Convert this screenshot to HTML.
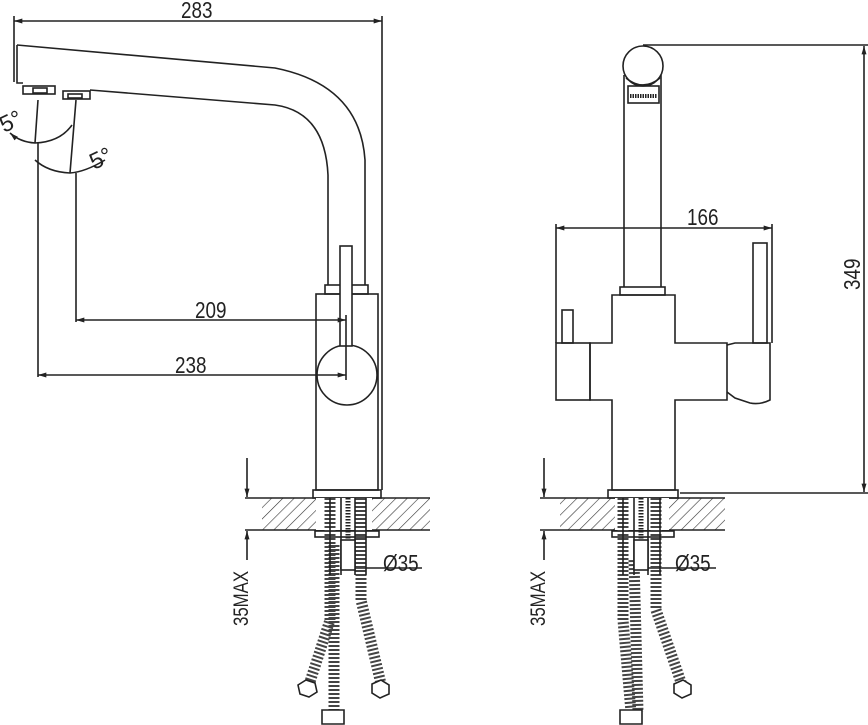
<!DOCTYPE html>
<html><head><style>html,body{margin:0;padding:0;background:#fff}svg{display:block}text{font-family:"Liberation Sans",sans-serif;fill:#222}</style></head>
<body>
<svg width="868" height="725" viewBox="0 0 868 725" xmlns="http://www.w3.org/2000/svg">
<defs>
<pattern id="h" width="8" height="8" patternUnits="userSpaceOnUse" patternTransform="rotate(45)"><line x1="0" y1="0" x2="0" y2="8" stroke="#333" stroke-width="1.2"/></pattern>
<marker id="a" viewBox="0 0 10 6" refX="10" refY="3" markerWidth="13" markerHeight="5" orient="auto-start-reverse" markerUnits="userSpaceOnUse"><path d="M0,0 L10,3 L0,6z" fill="#222"/></marker>
</defs>
<g fill="none" stroke="#222" stroke-width="1.6">
<!-- LEFT VIEW -->
<line x1="14" y1="21" x2="382" y2="21" marker-start="url(#a)" marker-end="url(#a)"/>
<line x1="14" y1="16" x2="14" y2="82"/>
<line x1="382" y1="16" x2="382" y2="490"/>
<path d="M17,45 L275,68 Q360,85 365,160 L365,285"/>
<path d="M17,45 L17,83 L23,83"/>
<path d="M90,90 L275,105 Q325,112 328,175 L328,285"/>
<rect x="23" y="86" width="32" height="8"/><rect x="33" y="88" width="14" height="5"/>
<rect x="63" y="91" width="27" height="8"/><rect x="68" y="94" width="14" height="4"/>
<path d="M38,100 L35,143 M76,100 L70,173"/>
<path d="M10,133 Q20,142 35,143 Q60,142 72,125" marker-start="url(#a)"/>
<path d="M35,160 Q48,172 70,173 Q85,172 105,160"/>
<line x1="38" y1="143" x2="38" y2="377"/>
<line x1="76" y1="173" x2="76" y2="322"/>
<rect x="325" y="285" width="43" height="9"/>
<rect x="316" y="294" width="62" height="196"/>
<circle cx="347" cy="375" r="30"/>
<rect x="340" y="246" width="12" height="100" fill="#fff"/>
<line x1="76" y1="320" x2="346" y2="320" marker-start="url(#a)" marker-end="url(#a)"/>
<line x1="38" y1="375" x2="346" y2="375" marker-start="url(#a)" marker-end="url(#a)"/>
<line x1="346" y1="315" x2="346" y2="380"/>
<rect x="313" y="490" width="68" height="8"/>
<rect x="262" y="498" width="168" height="32" fill="url(#h)" stroke="none"/>
<line x1="245" y1="498" x2="430" y2="498"/><line x1="245" y1="530" x2="430" y2="530"/>
<rect x="316" y="498" width="56" height="32" fill="#fff" stroke="none"/>
<rect x="315" y="531" width="64" height="6"/>
<line x1="247" y1="458" x2="247" y2="497" marker-end="url(#a)"/>
<line x1="247" y1="560" x2="247" y2="531" marker-end="url(#a)"/>
<line x1="340" y1="568" x2="422" y2="568"/>
<g stroke="#444" stroke-width="11" stroke-dasharray="2 2">
<path d="M330,498 L330,620 L308,688"/>
<path d="M334,545 L334,712"/>
<path d="M361,498 L361,600 L382,688"/>
</g>
<path d="M330,498 V575 M341,498 V575 M355,498 V575 M366,498 V575"/>
<rect x="341" y="540" width="14" height="30" fill="#fff"/>
<line x1="348" y1="498" x2="348" y2="540" stroke-width="5" stroke-dasharray="1.5 1.5"/>
<path d="M298,685 l8,-5 l9,3 l2,9 l-8,5 l-9,-3z" fill="#fff"/>
<path d="M322,710 h22 v14 h-22z" fill="#fff"/>
<path d="M372,684 l9,-4 l8,5 l0,9 l-9,4 l-8,-5z" fill="#fff"/>
<!-- RIGHT VIEW -->
<circle cx="643" cy="66" r="20"/>
<path d="M626,78 Q643,92 660,78"/>
<rect x="628" y="86" width="31" height="17"/><line x1="630" y1="96" x2="657" y2="96" stroke-width="4" stroke-dasharray="1.5 1"/>
<line x1="624" y1="75" x2="624" y2="287"/><line x1="661" y1="75" x2="661" y2="287"/>
<rect x="620" y="287" width="45" height="8"/>
<path d="M612,295 H675 V343 H727 V400 H675 V490 H612 V400 H590 V343 H612Z"/>
<rect x="556" y="343" width="34" height="57"/>
<rect x="562" y="310" width="11" height="33"/>
<path d="M727,345 L735,343 H770 V400 Q760,405 750,403 L735,398 L727,392"/>
<rect x="753" y="243" width="14" height="100"/>
<line x1="556" y1="228" x2="772" y2="228" marker-start="url(#a)" marker-end="url(#a)"/>
<line x1="556" y1="224" x2="556" y2="343"/><line x1="772" y1="224" x2="772" y2="343"/>
<line x1="643" y1="45" x2="868" y2="45"/>
<line x1="680" y1="493" x2="868" y2="493"/>
<line x1="864" y1="46" x2="864" y2="492" marker-start="url(#a)" marker-end="url(#a)"/>
<rect x="608" y="490" width="70" height="8"/>
<rect x="560" y="498" width="165" height="32" fill="url(#h)" stroke="none"/>
<line x1="540" y1="498" x2="725" y2="498"/><line x1="540" y1="530" x2="725" y2="530"/>
<rect x="615" y="498" width="54" height="32" fill="#fff" stroke="none"/>
<rect x="612" y="531" width="62" height="6"/>
<line x1="544" y1="458" x2="544" y2="497" marker-end="url(#a)"/>
<line x1="544" y1="560" x2="544" y2="531" marker-end="url(#a)"/>
<line x1="633" y1="568" x2="716" y2="568"/>
<g stroke="#444" stroke-width="11" stroke-dasharray="2 2">
<path d="M623,498 L623,620 L631,712"/>
<path d="M634,560 L638,712"/>
<path d="M656,498 L656,610 L683,688"/>
</g>
<path d="M623,498 V575 M634,498 V575 M648,498 V575 M660,498 V575"/>
<rect x="634" y="540" width="14" height="30" fill="#fff"/>
<line x1="641" y1="498" x2="641" y2="540" stroke-width="5" stroke-dasharray="1.5 1.5"/>
<path d="M620,710 h22 v14 h-22z" fill="#fff"/>
<path d="M674,684 l9,-4 l8,5 l0,9 l-9,4 l-8,-5z" fill="#fff"/>
</g>
<g font-size="23" stroke="none">
<text transform="translate(181,18) scale(0.82,1)">283</text>
<text transform="translate(195,318) scale(0.82,1)">209</text>
<text transform="translate(175,373) scale(0.82,1)">238</text>
<text transform="translate(383,571) scale(0.82,1)">Ø35</text>
<text transform="translate(675,571) scale(0.82,1)">Ø35</text>
<text transform="translate(687,225) scale(0.82,1)">166</text>
<text transform="translate(860,290) rotate(-90) scale(0.82,1)">349</text>
<text transform="translate(248,626) rotate(-90) scale(0.8,1)" font-size="21">35MAX</text>
<text transform="translate(545,626) rotate(-90) scale(0.8,1)" font-size="21">35MAX</text>
<text transform="translate(4,133) rotate(-25)">5°</text>
<text transform="translate(94,170) rotate(-25)">5°</text>
</g>
</svg>
</body></html>
